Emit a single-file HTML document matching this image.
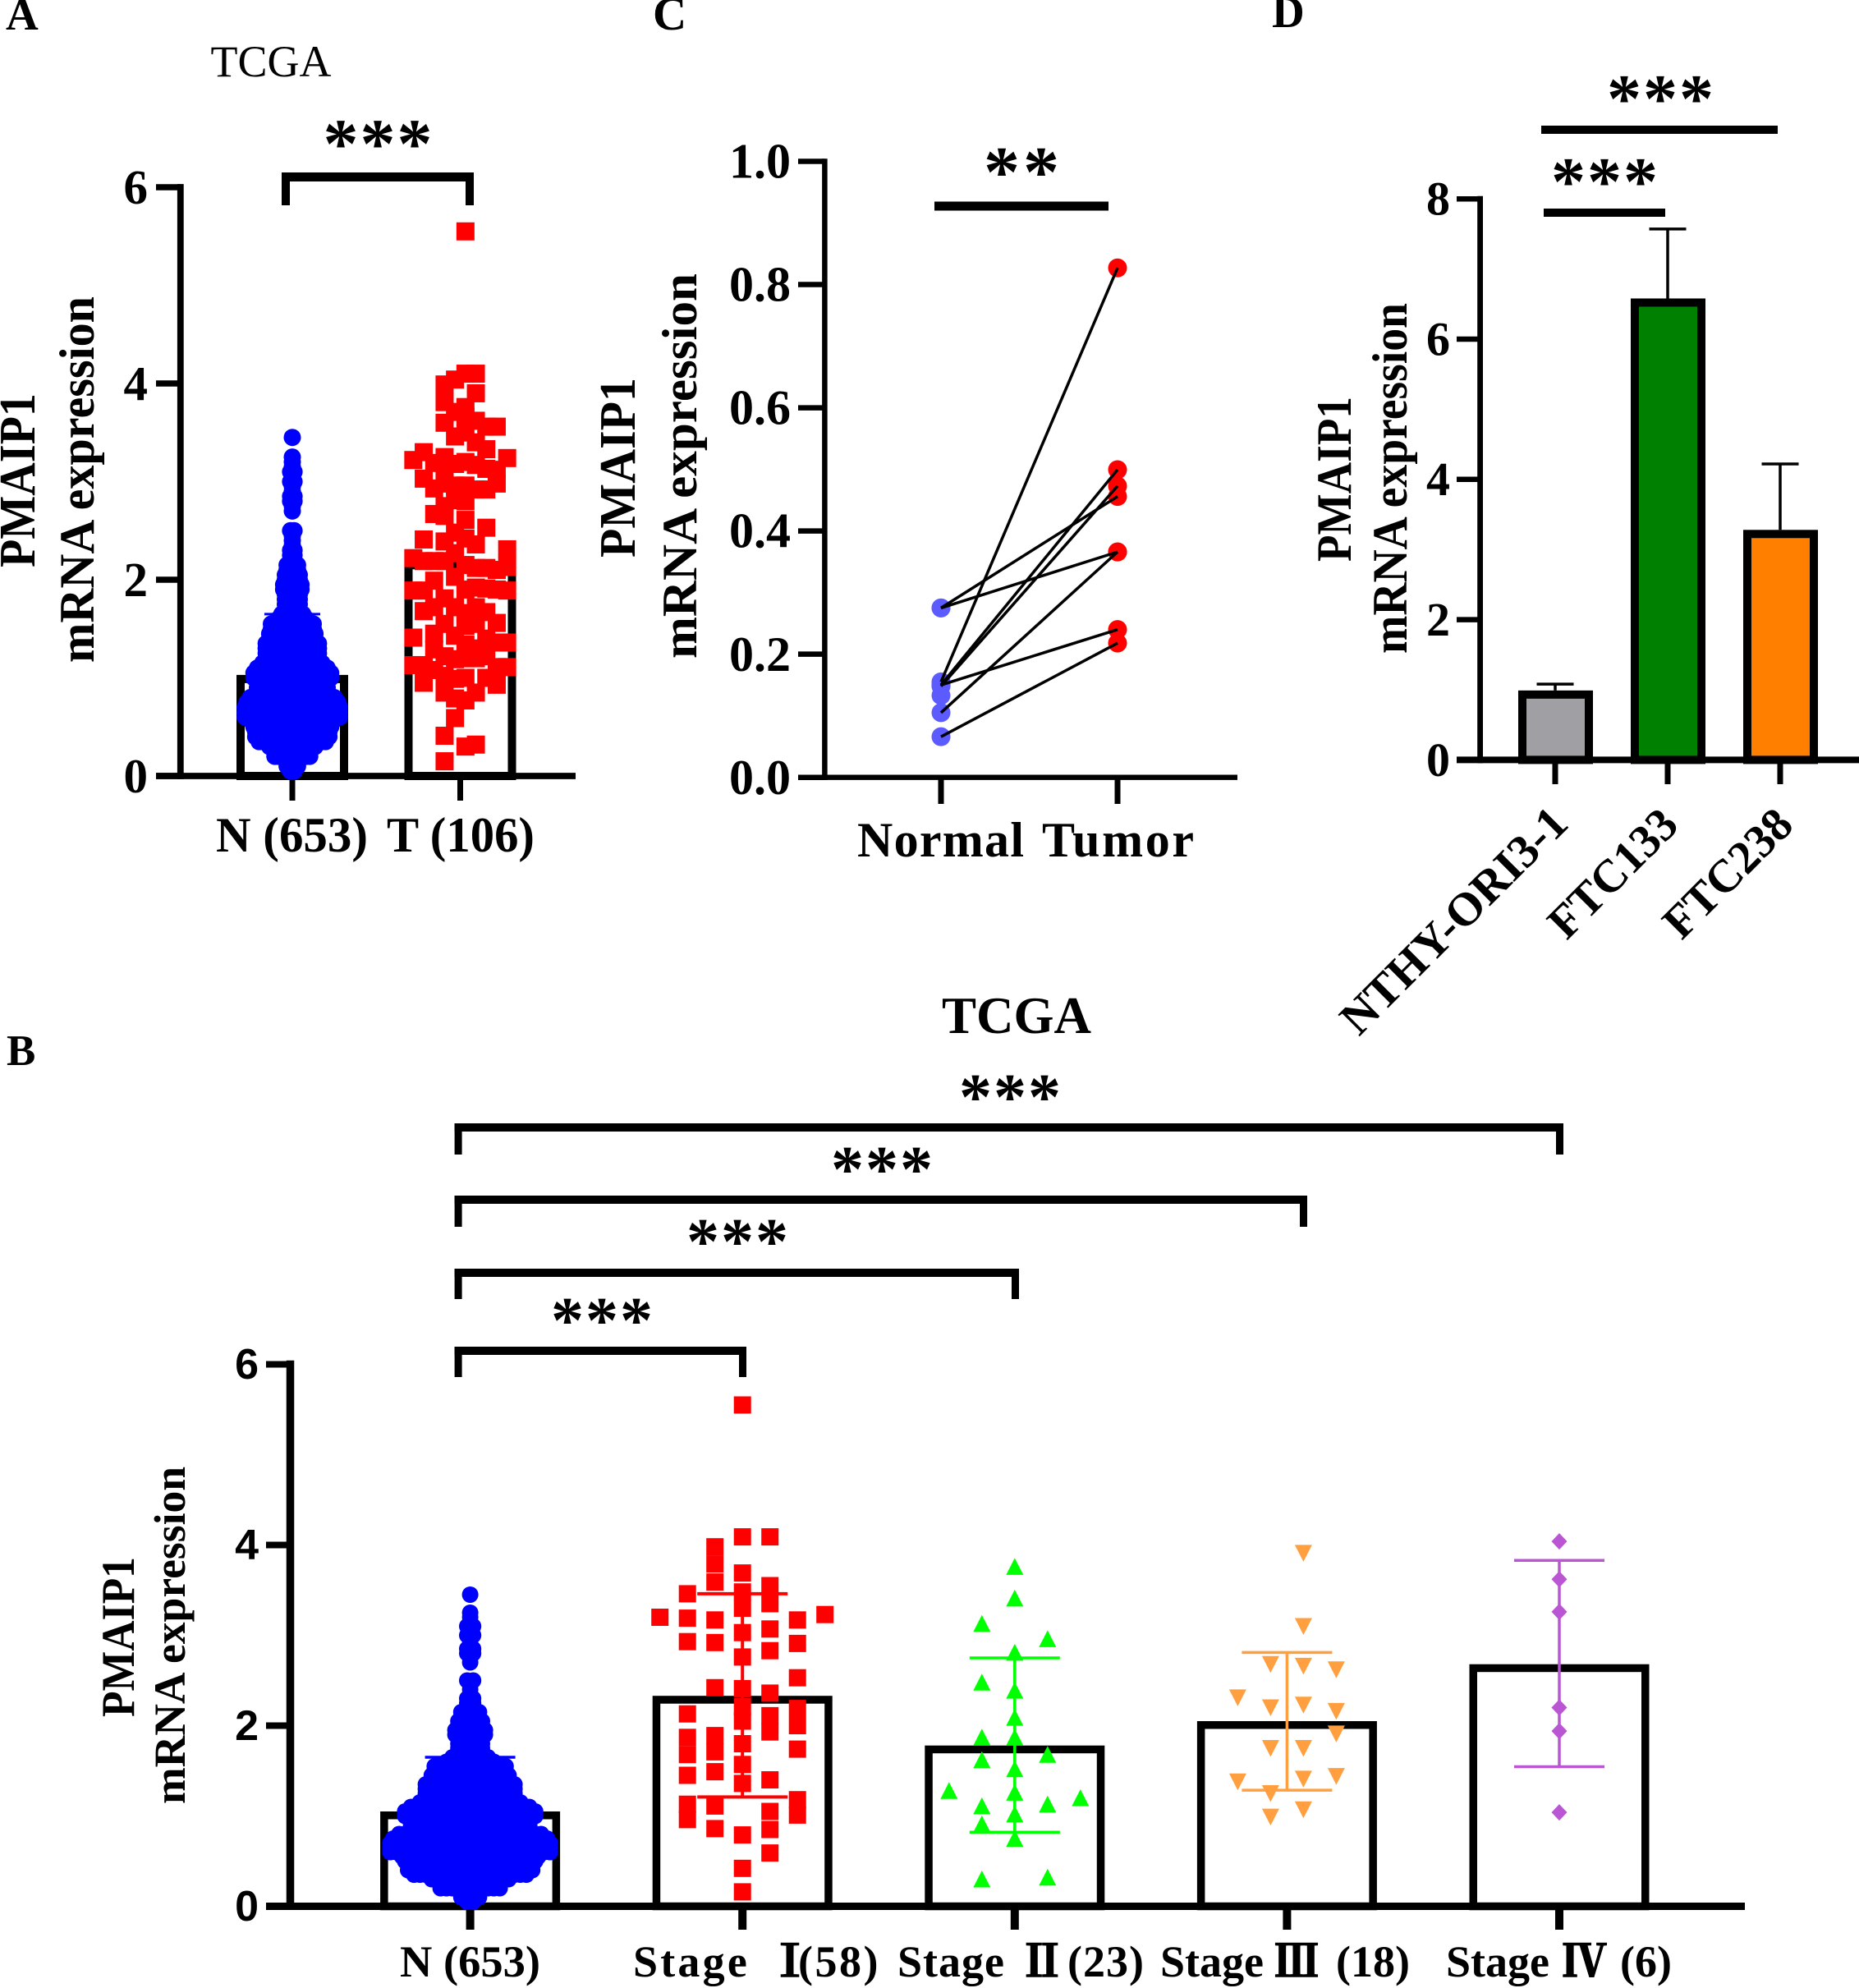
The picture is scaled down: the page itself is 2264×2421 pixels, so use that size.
<!DOCTYPE html>
<html lang="en">
<head>
<meta charset="utf-8">
<title>PMAIP1 mRNA expression figure</title>
<style>
html,body{margin:0;padding:0;background:#fff;width:2264px;height:2421px;overflow:hidden}
svg{display:block}
text{font-family:"Liberation Serif","Noto Serif CJK SC",serif;font-weight:700;fill:#000}
.roman{font-family:"Noto Serif CJK SC","Liberation Serif",serif;stroke:#000;stroke-width:1.6px;text-anchor:middle}
.after{text-anchor:start}
</style>
</head>
<body>
<svg id="fig" xmlns="http://www.w3.org/2000/svg" width="2264" height="2421" viewBox="0 0 2264 2421">
<rect x="0" y="0" width="2264" height="2421" fill="#fff"/>
<g id="layer"></g>

<text x="7" y="36" font-size="55">A</text>
<text x="8" y="1297" font-size="53">B</text>
<text x="795" y="36" font-size="57">C</text>
<text x="1549" y="33" font-size="55">D</text>

<text x="330" y="93" font-size="54" text-anchor="middle" style="font-weight:400">TCGA</text>
<text x="1238" y="1258" font-size="63" text-anchor="middle">TCGA</text>

<text transform="translate(42,585) rotate(-90)" font-size="62" text-anchor="middle" textLength="212" lengthAdjust="spacingAndGlyphs">PMAIP1</text>
<text transform="translate(114,584) rotate(-90)" font-size="60" text-anchor="middle" textLength="446" lengthAdjust="spacingAndGlyphs">mRNA expression</text>
<text transform="translate(773,569.5) rotate(-90)" font-size="62" text-anchor="middle" textLength="219" lengthAdjust="spacingAndGlyphs">PMAIP1</text>
<text transform="translate(848,567.5) rotate(-90)" font-size="60" text-anchor="middle" textLength="469" lengthAdjust="spacingAndGlyphs">mRNA expression</text>
<text transform="translate(1645,583.5) rotate(-90)" font-size="60" text-anchor="middle" textLength="201" lengthAdjust="spacingAndGlyphs">PMAIP1</text>
<text transform="translate(1713,582.5) rotate(-90)" font-size="60" text-anchor="middle" textLength="427" lengthAdjust="spacingAndGlyphs">mRNA expression</text>
<text transform="translate(163,1993.5) rotate(-90)" font-size="57" text-anchor="middle" textLength="195" lengthAdjust="spacingAndGlyphs">PMAIP1</text>
<text transform="translate(225,1991.5) rotate(-90)" font-size="54" text-anchor="middle" textLength="411" lengthAdjust="spacingAndGlyphs">mRNA expression</text>

<text x="461" y="204" font-size="86" text-anchor="middle" letter-spacing="2">***</text>
<text x="1246" y="239" font-size="88" text-anchor="middle" letter-spacing="4">**</text>
<text x="2023" y="148" font-size="84" text-anchor="middle" letter-spacing="2">***</text>
<text x="1955" y="249" font-size="84" text-anchor="middle" letter-spacing="2">***</text>
<text x="1231" y="1363" font-size="80" text-anchor="middle" letter-spacing="2">***</text>
<text x="1075" y="1451" font-size="80" text-anchor="middle" letter-spacing="2">***</text>
<text x="899" y="1539" font-size="80" text-anchor="middle" letter-spacing="2">***</text>
<text x="734" y="1635" font-size="80" text-anchor="middle" letter-spacing="2">***</text>

<text x="263" y="1037" font-size="60" textLength="185" lengthAdjust="spacingAndGlyphs">N (653)</text>
<text x="471" y="1037" font-size="60" textLength="180" lengthAdjust="spacingAndGlyphs">T (106)</text>
<text x="1044" y="1043" font-size="60" textLength="203" lengthAdjust="spacing">Normal</text>
<text x="1269" y="1043" font-size="60" textLength="185" lengthAdjust="spacing">Tumor</text>
<text transform="translate(1655,1263) rotate(-45)" font-size="57" textLength="364" lengthAdjust="spacingAndGlyphs">NTHY-ORI3-1</text>
<text transform="translate(1908,1146) rotate(-45)" font-size="57" textLength="196" lengthAdjust="spacingAndGlyphs">FTC133</text>
<text transform="translate(2048,1146) rotate(-45)" font-size="57" textLength="196" lengthAdjust="spacingAndGlyphs">FTC238</text>

<text x="487" y="2407" font-size="54" textLength="171" lengthAdjust="spacingAndGlyphs">N (653)</text>
<text y="2407" font-size="54"><tspan x="771" letter-spacing="3.2">Stage</tspan><tspan class="roman" x="962">Ⅰ</tspan><tspan class="after" x="972" letter-spacing="2.5">(58)</tspan></text>
<text y="2407" font-size="54"><tspan x="1093" letter-spacing="1">Stage</tspan><tspan class="roman" x="1269">Ⅱ</tspan><tspan class="after" x="1300" letter-spacing="1">(23)</tspan></text>
<text y="2407" font-size="54"><tspan x="1413">Stage</tspan><tspan class="roman" x="1579">Ⅲ</tspan><tspan class="after" x="1627">(18)</tspan></text>
<text y="2407" font-size="54"><tspan x="1761">Stage</tspan><tspan class="roman" x="1930">Ⅳ</tspan><tspan class="after" x="1973">(6)</tspan></text>
</svg>

<script>
/* ---------- shared data: normal tissue (653 samples), binned as value / count ---------- */
const normalBinValues = [0.05,0.1,0.15,0.2,0.25,0.3,0.35,0.4,0.45,0.5,0.55,0.6,0.65,0.7,0.75,0.8,0.85,0.9,0.95,1.0,1.05,1.1,1.15,1.2,1.25,1.3,1.35,1.4,1.45,1.5,1.55,1.6,1.65,1.7,1.75,1.8,1.85,1.9,1.95,2.0,2.05,2.1,2.15,2.2,2.25,2.3,2.35,2.4,2.45,2.5,2.7,2.75,2.8,2.85,2.9,2.95,3.0,3.05,3.1,3.15,3.2,3.25,3.45];
const normalBinCounts = [2,4,4,11,11,14,20,22,22,23,24,28,28,28,27,25,21,21,21,23,23,21,18,16,16,16,16,14,14,13,13,9,7,5,5,5,5,6,6,5,5,4,4,2,2,2,1,1,1,2,1,1,2,2,1,1,2,1,2,1,1,1,1];
const normalSdHigh = 1.65;

/* ---------- panel A ---------- */
const aTickLabels = ['0','2','4','6'];
const aTickValues = [0,2,4,6];
const aCategories = ['N','T'];
const aBarValues = [1.03,2.19];
const tumorColumn0 = [3.22,2.22,1.89,1.41,1.13];
const tumorColumn1 = [3.30,3.03,2.41,2.19,1.89,1.68,1.13,0.95];
const tumorColumn2 = [3.19,2.93,2.67,2.19,1.99,1.72,1.45,1.29,1.08];
const tumorColumn3 = [3.99,3.81,3.60,3.25,3.12,2.98,2.75,2.65,2.39,2.19,1.81,1.55,1.22,1.02,0.85,0.41,0.15];
const tumorColumn4 = [4.04,3.71,3.46,3.18,2.96,2.81,2.48,2.27,2.03,1.72,1.43,1.19,0.99,0.79,0.59];
const tumorColumn5 = [5.55,4.10,3.76,3.66,3.50,3.20,2.96,2.80,2.61,2.42,2.15,1.90,1.66,1.53,1.34,1.20,1.00,0.77,0.30];
const tumorColumn6 = [4.10,3.90,3.62,3.40,3.17,2.92,2.36,2.12,1.92,1.72,1.55,1.30,1.20,0.85,0.32];
const tumorColumn7 = [3.56,3.33,3.13,2.92,2.53,2.12,1.91,1.67,1.40,1.22,1.0];
const tumorColumn8 = [3.56,3.12,2.98,2.10,1.90,1.56,1.36,1.11,0.93];
const tumorColumn9 = [3.24,2.31,2.13,1.89,1.36,1.11];

/* ---------- panel B ---------- */
const bTickLabels = ['0','2','4','6'];
const bTickValues = [0,2,4,6];
const bCategories = ['normal','stage-1','stage-2','stage-3','stage-4'];
const bBarValues = [1.05,2.33,1.78,2.05,2.68];
const bErrLow = [null,1.21,0.82,1.285,1.545];
const bErrHigh = [1.65,3.46,2.75,2.81,3.83];
const stage1Columns = [
  [3.20],
  [3.46,3.19,2.93,2.13,1.87,1.68,1.45,1.13,0.96],
  [3.98,3.79,3.59,3.17,2.92,2.42,1.89,1.71,1.49,1.11,0.86],
  [5.55,4.09,3.69,3.48,3.30,3.03,2.76,2.41,2.21,2.05,1.80,1.57,1.36,0.79,0.42,0.16],
  [4.09,3.55,3.35,3.07,2.83,2.36,2.11,1.93,1.40,1.05,0.85,0.59],
  [3.17,2.91,2.53,2.19,2.0,1.74,1.18,1.01],
  [3.23]
];
const stage2Columns = [
  [1.28],
  [3.13,2.48,1.87,1.62,1.11,0.91,0.30],
  [3.76,3.41,2.81,2.39,2.09,1.87,1.52,1.26,1.02,0.75],
  [2.96,1.68,1.13,0.32],
  [1.20]
];
const stage3Columns = [
  [2.31,1.38],
  [2.68,2.20,1.75,1.25,0.99],
  [3.91,3.10,2.66,2.23,1.75,1.41,1.07],
  [2.62,2.16,1.91,1.44]
];
const stage4Values = [4.04,3.62,3.26,2.20,1.94,1.04];

/* ---------- panel C ---------- */
const cTickLabels = ['0.0','0.2','0.4','0.6','0.8','1.0'];
const cTickValues = [0,0.2,0.4,0.6,0.8,1.0];
const cNormalValues = [0.275,0.275,0.155,0.15,0.148,0.15,0.105,0.066];
const cTumorValues = [0.456,0.366,0.827,0.4995,0.473,0.24,0.366,0.218];
const cExtraNormal = [0.133];

/* ---------- panel D ---------- */
const dTickLabels = ['0','2','4','6','8'];
const dTickValues = [0,2,4,6,8];
const dCategories = ['nthy-ori3-1','ftc133','ftc238'];
const dBarValues = [0.99,6.58,3.28];
const dErrHigh = [1.08,7.57,4.22];

/* ---------- axis functions ---------- */
const yA = v => 945 - v * 119.5;
const xA = i => 356 + i * 204.5;
const yB = v => 2321.5 - v * 110;
const xB = i => 572.6 + i * 331.6;
const yC = v => 946.7 - v * 750.2;
const xC = i => 1146 + i * 215;
const yD = v => 925.4 - v * 85.4;
const xD = i => 1894 + i * 137;

const NS = 'http://www.w3.org/2000/svg';
const layer = document.getElementById('layer');

function mk(tag, name, attrs) {
  const el = document.createElementNS(NS, tag);
  
  
  for (const k in attrs) el.setAttribute(k, attrs[k]);
  layer.appendChild(el);
  return el;
}
function seg(name, x1, y1, x2, y2, w, color) {
  return mk('line', name, {x1, y1, x2, y2, stroke: color || '#000', 'stroke-width': w});
}
function bar(name, cx, top, base, width, sw, fill) {
  return mk('rect', name, {
    x: cx - width / 2 + sw / 2, y: top + sw / 2,
    width: width - sw, height: base - top - sw / 2,
    fill: fill || '#fff', stroke: '#000', 'stroke-width': sw
  });
}
function square(name, cx, cy, s, color) {
  return mk('rect', name, {x: cx - s / 2, y: cy - s / 2, width: s, height: s, fill: color});
}
function disc(name, cx, cy, r, color) {
  return mk('circle', name, {cx, cy, r, fill: color});
}
function poly(name, pts, color) {
  return mk('polygon', name, {points: pts.map(p => p[0] + ',' + p[1]).join(' '), fill: color});
}
function bracket(name, x1, x2, top, bottom, thick, legW) {
  seg(name + '-bar', x1, top + thick / 2, x2, top + thick / 2, thick);
  seg(name + '-left-leg', x1 + legW / 2, top, x1 + legW / 2, bottom, legW);
  seg(name + '-right-leg', x2 - legW / 2, top, x2 - legW / 2, bottom, legW);
}
function yAxis(prefix, o) {
  seg(prefix + '-y-axis', o.x, o.y(o.values[o.values.length - 1]) - o.w / 2, o.x, o.y(0) + o.h / 2, o.w);
  o.values.forEach((v, i) => {
    seg(prefix + '-y-tick', o.tickL, o.y(v), o.x, o.y(v), o.tickW);
    const t = mk('text', prefix + '-y-tick-label', {
      x: o.labelR, y: o.y(v) + o.size * 0.335, 'font-size': o.size, 'text-anchor': 'end'
    });
    if (o.sans) t.style.fontFamily = '"Liberation Sans",sans-serif';
    t.textContent = o.labels[i];
  });
}
function xAxis(prefix, o) {
  seg(prefix + '-x-axis', o.left, o.base, o.right, o.base, o.h);
  for (let i = 0; i < o.n; i++) {
    seg(prefix + '-x-tick', o.x(i), o.base, o.x(i), o.bottom, o.tickW);
  }
}
function normalSwarm(prefix, cx, y, r, spacing) {
  normalBinValues.forEach((v, row) => {
    const c = normalBinCounts[row];
    for (let i = 0; i < c; i++) {
      disc(prefix + '-normal-point', cx + (i - (c - 1) / 2) * spacing, y(v), r, '#0000ff');
    }
  });
}
function errorBar(name, cx, top, bottom, half, w, color) {
  seg(name + '-stem', cx, top, cx, bottom, w, color);
  seg(name + '-cap-high', cx - half, top, cx + half, top, w, color);
  seg(name + '-cap-low', cx - half, bottom, cx + half, bottom, w, color);
}

/* ---------- panel A draw ---------- */
aCategories.forEach((c, i) => bar('panel-a-bar-' + c, xA(i), yA(aBarValues[i]), yA(0), 136, 10));
yAxis('panel-a', {x: 219.8, y: yA, values: aTickValues, labels: aTickLabels, tickL: 190, tickW: 7.5, w: 7.8, h: 7.7, labelR: 180, size: 59});
xAxis('panel-a', {x: xA, n: 2, left: 190, right: 701, base: 945, bottom: 975, h: 7.7, tickW: 7});
bracket('panel-a-bracket', 343, 577, 210, 250, 11, 10);
seg('panel-a-normal-sd-cap', xA(0) - 34, yA(normalSdHigh), xA(0) + 34, yA(normalSdHigh), 3, '#0000ff');
normalSwarm('panel-a', xA(0), yA, 10.5, 4.25);
[tumorColumn0,tumorColumn1,tumorColumn2,tumorColumn3,tumorColumn4,tumorColumn5,tumorColumn6,tumorColumn7,tumorColumn8,tumorColumn9].forEach((col, ci) => {
  col.forEach(v => square('panel-a-tumor-point', xA(1) + (ci - 4.5) * 12.7, yA(v), 22, '#ff0000'));
});

/* ---------- panel B draw ---------- */
bCategories.forEach((c, i) => bar('panel-b-bar-' + c, xB(i), yB(bBarValues[i]), yB(0), 219, 9.5));
yAxis('panel-b', {x: 353.5, y: yB, values: bTickValues, labels: bTickLabels, tickL: 324, tickW: 8, w: 9.5, h: 9, labelR: 315, size: 52, sans: true});
xAxis('panel-b', {x: xB, n: 5, left: 324, right: 2125, base: 2321.5, bottom: 2350, h: 9, tickW: 10});
bracket('panel-b-bracket-stage-4', 553.6, 1904, 1368, 1406, 10, 9);
bracket('panel-b-bracket-stage-3', 553.6, 1592, 1456, 1494, 10, 9);
bracket('panel-b-bracket-stage-2', 553.6, 1241, 1545, 1582, 10, 9);
bracket('panel-b-bracket-stage-1', 553.6, 909, 1640, 1677, 10, 9);
seg('panel-b-normal-sd-cap', xB(0) - 55, yB(bErrHigh[0]), xB(0) + 55, yB(bErrHigh[0]), 3.5, '#0000ff');
errorBar('panel-b-error-stage-1', xB(1), yB(bErrHigh[1]), yB(bErrLow[1]), 55, 4, '#ff0000');
errorBar('panel-b-error-stage-2', xB(2), yB(bErrHigh[2]), yB(bErrLow[2]), 55, 3.5, '#00ff00');
errorBar('panel-b-error-stage-3', xB(3), yB(bErrHigh[3]), yB(bErrLow[3]), 55, 3.5, '#ff9f40');
errorBar('panel-b-error-stage-4', xB(4), yB(bErrHigh[4]), yB(bErrLow[4]), 55, 3.5, '#ba55d3');
normalSwarm('panel-b', xB(0), yB, 10, 7.2);
stage1Columns.forEach((col, ci) => col.forEach(v => {
  square('panel-b-stage-1-point', xB(1) + (ci - 3) * 33.5, yB(v), 21, '#ff0000');
}));
stage2Columns.forEach((col, ci) => col.forEach(v => {
  const cx = xB(2) + (ci - 2) * 40, cy = yB(v);
  poly('panel-b-stage-2-point', [[cx, cy - 10.5], [cx + 10.5, cy + 10], [cx - 10.5, cy + 10]], '#00ff00');
}));
stage3Columns.forEach((col, ci) => col.forEach(v => {
  const cx = xB(3) + (ci - 1.5) * 40, cy = yB(v);
  poly('panel-b-stage-3-point', [[cx - 10.5, cy - 10], [cx + 10.5, cy - 10], [cx, cy + 10.5]], '#ff9f40');
}));
stage4Values.forEach(v => {
  const cx = xB(4), cy = yB(v);
  poly('panel-b-stage-4-point', [[cx, cy - 10], [cx + 9.5, cy], [cx, cy + 10], [cx - 9.5, cy]], '#ba55d3');
});

/* ---------- panel C draw ---------- */
yAxis('panel-c', {x: 1004.4, y: yC, values: cTickValues, labels: cTickLabels, tickL: 972, tickW: 6.5, w: 6.5, h: 6.3, labelR: 963, size: 60});
xAxis('panel-c', {x: xC, n: 2, left: 972, right: 1507, base: 946.7, bottom: 979, h: 6.3, tickW: 7});
seg('panel-c-significance-line', 1138, 251, 1350, 251, 11);
cNormalValues.concat(cExtraNormal).forEach(v => disc('panel-c-normal-point', xC(0), yC(v), 11.5, '#5b5bff'));
cTumorValues.forEach(v => disc('panel-c-tumor-point', xC(1), yC(v), 11.5, '#ff0000'));
cNormalValues.forEach((v, i) => {
  seg('panel-c-pair-line', xC(0), yC(v), xC(1), yC(cTumorValues[i]), 3.5);
});

/* ---------- panel D draw ---------- */
const dFills = ['#a0a0a4', '#008000', '#ff8000'];
dCategories.forEach((c, i) => {
  seg('panel-d-error-' + c, xD(i), yD(dErrHigh[i]), xD(i), yD(dBarValues[i]), 3.5);
  seg('panel-d-error-cap-' + c, xD(i) - 22.5, yD(dErrHigh[i]), xD(i) + 22.5, yD(dErrHigh[i]), 3.5);
});
yAxis('panel-d', {x: 1802.6, y: yD, values: dTickValues, labels: dTickLabels, tickL: 1774, tickW: 6.5, w: 6.8, h: 8, labelR: 1766, size: 58});
xAxis('panel-d', {x: xD, n: 3, left: 1774, right: 2264, base: 925.4, bottom: 955, h: 8, tickW: 7});
dCategories.forEach((c, i) => bar('panel-d-bar-' + c, xD(i) + 0.5, yD(dBarValues[i]), yD(0), 91, 10, dFills[i]));
seg('panel-d-significance-line-top', 1877, 158, 2165, 158, 10);
seg('panel-d-significance-line-lower', 1880, 259, 2028, 259, 10);
</script>
</body>
</html>
